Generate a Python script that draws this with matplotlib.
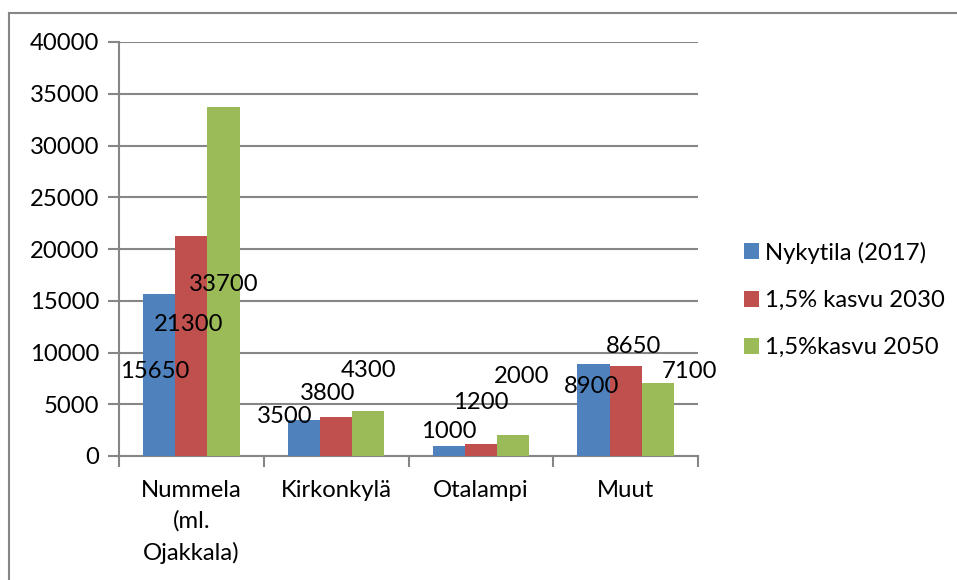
import numpy as np
import matplotlib
matplotlib.use("Agg")
import matplotlib.pyplot as plt
from matplotlib.lines import Line2D

plt.rcParams["font.family"] = ["Lato", "DejaVu Sans"]

# data
categories = ["Nummela\n(ml.\nOjakkala)", "Kirkonkylä", "Otalampi", "Muut"]
series_names = ["Nykytila (2017)", "1,5% kasvu 2030", "1,5%kasvu 2050"]
nykytila = [15650, 3500, 1000, 8900]
kasvu_2030 = [21300, 3800, 1200, 8650]
kasvu_2050 = [33700, 4300, 2000, 7100]
colors = ["#4F81BD", "#C0504D", "#9BBB59"]

# data label placement (moved by hand in the original): x shift in px, y in data
label_dx = [[-5, -19, 0, -2], [-3, -8, 0, 8], [0, 0, 9, 32]]
label_y = [[8400, 4030, 2580, 6860], [12880, 6210, 5410, 10820], [16740, 8470, 7920, 8310]]

W, H = 957, 580
fig = plt.figure(figsize=(W / 100, H / 100), dpi=100)
ax = fig.add_axes([119 / W, 1 - 456 / H, (698 - 119) / W, (456 - 42) / H])

grey = "#868686"
fs = 17.2
x = np.arange(len(categories))
bw = 0.222
cat_px = (698 - 119) / 4.0

all_series = [nykytila, kasvu_2030, kasvu_2050]
for i, vals in enumerate(all_series):
    pos = x + (i - 1) * bw
    ax.bar(pos, vals, width=bw, color=colors[i], zorder=3, label=series_names[i])
    for j, v in enumerate(vals):
        ax.text(pos[j] + label_dx[i][j] / cat_px, label_y[i][j], f"{v}",
                ha="center", va="center_baseline", fontsize=fs, color="black", zorder=5)

ax.set_xlim(-0.5, 3.5)
ax.set_ylim(0, 40000)
ax.set_yticks(np.arange(0, 40001, 5000))
ax.tick_params(axis="y", labelsize=fs, length=8, width=1.5, color=grey, pad=6)
ax.set_xticks(x)
ax.set_xticklabels(categories, fontsize=fs, linespacing=1.55)
ax.tick_params(axis="x", length=0, pad=17)
ax.set_xticks(np.arange(-0.5, 4, 1), minor=True)
ax.tick_params(axis="x", which="minor", length=8, width=1.5, color=grey)
ax.grid(True, axis="y", color=grey, linewidth=1.5, zorder=0)
for s in ["top", "right"]:
    ax.spines[s].set_visible(False)
ax.spines["left"].set_color(grey)
ax.spines["left"].set_linewidth(1.5)
ax.spines["bottom"].set_color(grey)
ax.spines["bottom"].set_linewidth(1.5)

# legend
leg = fig.legend(loc="center left", bbox_to_anchor=(722 / W, 1 - 300 / H), frameon=False,
                 fontsize=fs, handlelength=0.65, handleheight=0.65, handletextpad=0.25,
                 labelspacing=1.1)

# outer chart frame (top and left edges visible)
fig.add_artist(Line2D([9 / W, 9 / W], [0, 1 - 13 / H], color=grey, linewidth=1.5))
fig.add_artist(Line2D([9 / W, 1], [1 - 13 / H, 1 - 13 / H], color=grey, linewidth=1.5))

fig.savefig("out.png", dpi=100)
